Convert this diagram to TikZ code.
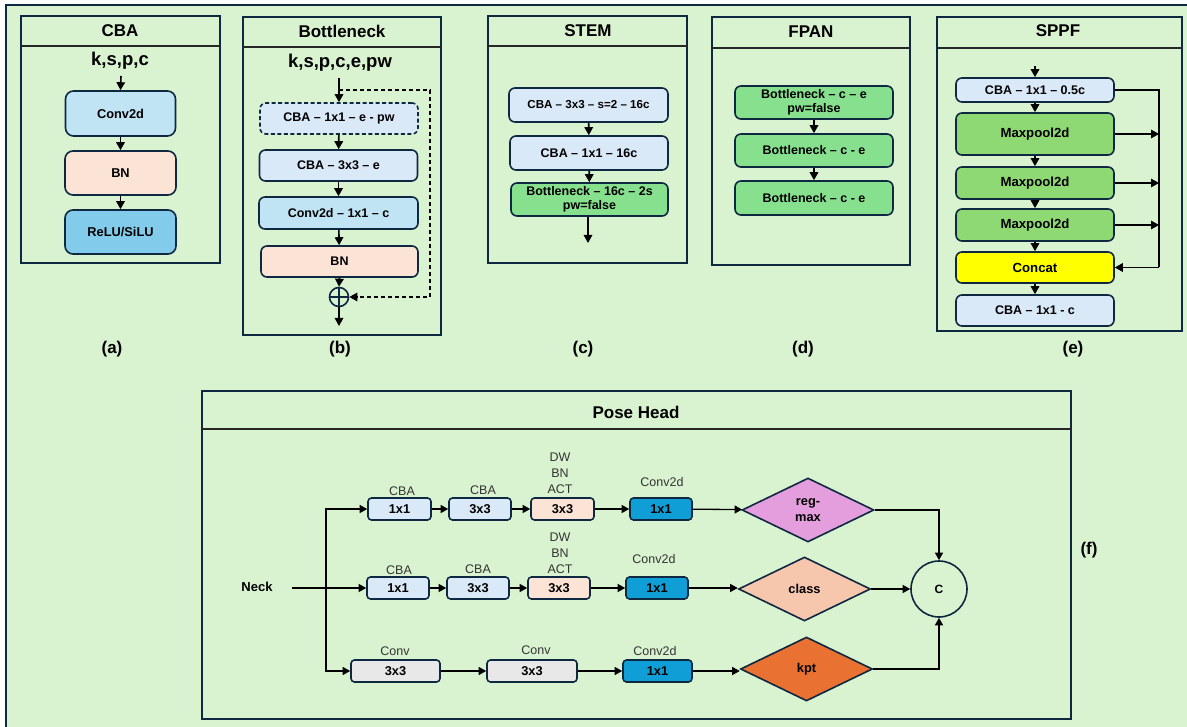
\documentclass[tikz,border=0pt]{standalone}
\usepackage{fontspec}
\setmainfont{Liberation Sans}
\usetikzlibrary{arrows.meta,shapes.geometric}

\definecolor{bg}{HTML}{D9F2D0}
\definecolor{ink}{HTML}{0E2841}
\definecolor{convblue}{HTML}{C1E4F5}
\definecolor{bnpeach}{HTML}{FBE3D6}
\definecolor{actblue}{HTML}{83CBEB}
\definecolor{cbablue}{HTML}{DAE9F8}
\definecolor{bottgreen}{HTML}{87E08D}
\definecolor{poolgreen}{HTML}{8ED973}
\definecolor{concatyellow}{HTML}{FFFF00}
\definecolor{convgray}{HTML}{E8E8E8}
\definecolor{headblue}{HTML}{0F9ED5}
\definecolor{regpink}{HTML}{E59EDD}
\definecolor{clspeach}{HTML}{F6C6AD}
\definecolor{kptorange}{HTML}{E97132}

\tikzset{
  panel/.style={draw=ink, line width=1.8pt},
  divider/.style={draw=black!85, line width=1.6pt},
  blk/.style={draw=ink, line width=1.6pt, rounded corners=6pt, inner sep=1pt,
    align=center, font=\bfseries\fontsize{12.5}{14}\selectfont},
  sblk/.style={draw=ink, line width=1.6pt, rounded corners=3.5pt, inner sep=1pt,
    minimum height=22pt, font=\bfseries\fontsize{12.8}{14}\selectfont},
  arr/.style={-{Triangle[length=8pt,width=8.5pt]}, line width=1.6pt, black},
  harr/.style={-{Triangle[length=7.5pt,width=8pt]}, line width=1.3pt, black},
  ttl/.style={font=\bfseries\fontsize{17}{20}\selectfont},
  params/.style={font=\bfseries\fontsize{18.5}{21}\selectfont},
  tag/.style={font=\bfseries\fontsize{17}{20}\selectfont},
  lbl/.style={font=\fontsize{12.5}{16}\selectfont, text=black!80, inner sep=0pt},
  dia/.style={diamond, draw=ink, line width=1.6pt, inner sep=0pt,
    minimum width=132pt, minimum height=64pt, align=center,
    font=\bfseries\fontsize{12.8}{16}\selectfont},
}

\begin{document}
\begin{tikzpicture}[x=1pt, y=-1pt]
\useasboundingbox (0,0) rectangle (1187,727);

% canvas
\fill[bg] (6,5) rectangle (1187,727);
\draw[ink, line width=2pt] (6,727) -- (6,5) -- (1187,5);

% ---------------- (a) CBA ----------------
\draw[panel] (21,16) rectangle (220,263);
\draw[divider] (21,46) -- (220,46);
\node[ttl] (tA) at (120,31) {CBA};
\node[params] (pA) at (120,61) {k,s,p,c};
\coordinate (inA) at (121,76);
\node[blk, fill=convblue, minimum width=110pt, minimum height=45pt, rounded corners=8pt,
  font=\bfseries\fontsize{12.8}{14}\selectfont] (a1) at (120.5,113.5) {Conv2d};
\node[blk, fill=bnpeach, minimum width=111pt, minimum height=44pt, rounded corners=8pt,
  font=\bfseries\fontsize{12.8}{14}\selectfont] (a2) at (120.5,173) {BN};
\node[blk, fill=actblue, minimum width=111pt, minimum height=44pt, rounded corners=8pt,
  font=\bfseries\fontsize{12.8}{14}\selectfont] (a3) at (120.5,232) {ReLU/SiLU};
\draw[arr] (inA) -- (a1.north);
\draw[arr] (a1) -- (a2);
\draw[arr] (a2) -- (a3);
\node[tag] (la) at (112,349) {(a)};

% ---------------- (b) Bottleneck ----------------
\draw[panel] (243,17) rectangle (441,335);
\draw[divider] (243,47) -- (441,47);
\node[ttl] (tB) at (342,31) {Bottleneck};
\node[params] (pB) at (340,63) {k,s,p,c,e,pw};
\coordinate (inB) at (339,78);
\coordinate (splitB) at (339,90);
\coordinate (skipR) at (430,90);
\coordinate (skipD) at (430,297);
\node[blk, dashed, dash pattern=on 4pt off 2.5pt, fill=cbablue, minimum width=158pt, minimum height=31pt] (b1) at (339,118.5) {CBA – 1x1 – e - pw};
\node[blk, fill=cbablue, minimum width=158pt, minimum height=31pt] (b2) at (338.5,165.5) {CBA – 3x3 – e};
\node[blk, fill=convblue, minimum width=159pt, minimum height=32pt] (b3) at (338.5,213) {Conv2d – 1x1 – c};
\node[blk, fill=bnpeach, minimum width=157pt, minimum height=31pt] (b4) at (339.5,261.5) {BN};
\node[circle, draw=ink, line width=1.6pt, minimum size=19pt, inner sep=0pt,
  path picture={\draw[ink, line width=1.6pt]
    (path picture bounding box.north) -- (path picture bounding box.south)
    (path picture bounding box.west) -- (path picture bounding box.east);}] (op) at (339,297) {};
\coordinate (outB) at (339,326);
\draw[arr] (inB) -- (b1.north);
\draw[arr] (b1) -- (b2);
\draw[arr] (b2) -- (b3);
\draw[arr] (b3) -- (b4);
\draw[arr] (b4.south) -- (op.north);
\draw[arr] (op.south) -- (outB);
\draw[arr, dashed, dash pattern=on 4pt off 3pt] (splitB) -- (skipR) -- (skipD) -- (op.east);
\node[tag] (lb) at (340,349) {(b)};

% ---------------- (c) STEM ----------------
\draw[panel] (488,16) rectangle (687,263);
\draw[divider] (488,46) -- (687,46);
\node[ttl] (tC) at (588,31) {STEM};
\node[blk, fill=cbablue, minimum width=159pt, minimum height=34pt,
  font=\bfseries\fontsize{11.6}{13}\selectfont] (c1) at (588.5,105) {CBA – 3x3 – s=2 – 16c};
\node[blk, fill=cbablue, minimum width=158pt, minimum height=34pt] (c2) at (589,153) {CBA – 1x1 – 16c};
\node[blk, fill=bottgreen, minimum width=157pt, minimum height=33pt] (c3) at (589.5,199.5) {Bottleneck – 16c – 2s\\pw=false};
\coordinate (outC) at (588,243);
\draw[arr] (c1) -- (c2);
\draw[arr] (c2) -- (c3);
\draw[arr] (c3.south -| outC) -- (outC);
\node[tag] (lc) at (583,349) {(c)};

% ---------------- (d) FPAN ----------------
\draw[panel] (712,17) rectangle (910,265);
\draw[divider] (712,48) -- (910,48);
\node[ttl] (tD) at (811,32) {FPAN};
\node[blk, fill=bottgreen, minimum width=158pt, minimum height=33pt] (d1) at (814,102.5) {Bottleneck – c – e\\pw=false};
\node[blk, fill=bottgreen, minimum width=158pt, minimum height=33pt] (d2) at (814,150.5) {Bottleneck – c - e};
\node[blk, fill=bottgreen, minimum width=158pt, minimum height=34pt] (d3) at (814,198) {Bottleneck – c - e};
\draw[arr] (d1) -- (d2);
\draw[arr] (d2) -- (d3);
\node[tag] (ld) at (803,349) {(d)};

% ---------------- (e) SPPF ----------------
\draw[panel] (937,17) rectangle (1182,331);
\draw[divider] (937,48) -- (1182,48);
\node[ttl] (tE) at (1058,31) {SPPF};
\coordinate (inE) at (1035,66);
\node[blk, fill=cbablue, minimum width=158pt, minimum height=24pt] (e1) at (1035,90) {CBA – 1x1 – 0.5c};
\node[blk, fill=poolgreen, minimum width=158pt, minimum height=42pt,
  font=\bfseries\fontsize{13.2}{15}\selectfont] (e2) at (1035,134) {Maxpool2d};
\node[blk, fill=poolgreen, minimum width=158pt, minimum height=32pt,
  font=\bfseries\fontsize{13.2}{15}\selectfont] (e3) at (1035,183) {Maxpool2d};
\node[blk, fill=poolgreen, minimum width=158pt, minimum height=32pt,
  font=\bfseries\fontsize{13.2}{15}\selectfont] (e4) at (1035,225) {Maxpool2d};
\node[blk, fill=concatyellow, minimum width=158pt, minimum height=31pt,
  font=\bfseries\fontsize{13.2}{15}\selectfont] (e5) at (1035,267.5) {Concat};
\node[blk, fill=cbablue, minimum width=158pt, minimum height=31pt] (e6) at (1035,310.5) {CBA – 1x1 - c};
\coordinate (busT) at (1159,90);
\coordinate (busB) at (1159,267.5);
\draw[arr] (inE) -- (e1.north);
\draw[arr] (e1) -- (e2);
\draw[arr] (e2) -- (e3);
\draw[arr] (e3) -- (e4);
\draw[arr] (e4) -- (e5);
\draw[arr] (e5) -- (e6);
\draw[line width=1.6pt] (e1.east) -- (busT) -- (busB);
\draw[arr] (e2.east) -- (e2.east -| busT);
\draw[arr] (e3.east) -- (e3.east -| busT);
\draw[arr] (e4.east) -- (e4.east -| busT);
\draw[arr] (busB) -- (e5.east);
\node[tag] (le) at (1073,349) {(e)};

% ---------------- (f) Pose Head ----------------
\draw[panel] (202,391) rectangle (1071,719);
\draw[divider] (202,429) -- (1071,429);
\node[ttl] (tF) at (636,412) {Pose Head};
\node[tag] (lf) at (1089,550) {(f)};

\node[font=\bfseries\fontsize{13}{15}\selectfont] (neck) at (257,587) {Neck};
\coordinate (nstart) at (292,588);
\coordinate (split) at (326,588);

% row 1
\node[sblk, fill=cbablue, minimum width=63pt] (r1a) at (399.5,509) {1x1};
\node[sblk, fill=cbablue, minimum width=62pt] (r1b) at (480,509) {3x3};
\node[sblk, fill=bnpeach, minimum width=63pt] (r1c) at (562.5,509) {3x3};
\node[sblk, fill=headblue, minimum width=62pt] (r1d) at (661,509) {1x1};
\node[dia, fill=regpink] (reg) at (808,510) {reg-\\max};
% row 2
\node[sblk, fill=cbablue, minimum width=62pt] (r2a) at (398,588) {1x1};
\node[sblk, fill=cbablue, minimum width=62pt] (r2b) at (478,588) {3x3};
\node[sblk, fill=bnpeach, minimum width=62pt] (r2c) at (559,588) {3x3};
\node[sblk, fill=headblue, minimum width=62pt] (r2d) at (657,588) {1x1};
\node[dia, fill=clspeach] (cls) at (804.5,589) {class};
% row 3
\node[sblk, fill=convgray, minimum width=89pt] (r3a) at (395.5,671) {3x3};
\node[sblk, fill=convgray, minimum width=90pt] (r3b) at (532,671) {3x3};
\node[sblk, fill=headblue, minimum width=69pt] (r3d) at (657.5,671) {1x1};
\node[dia, fill=kptorange] (kpt) at (806.5,669) {kpt};
% concat
\node[circle, draw=ink, line width=1.6pt, minimum size=56pt, inner sep=0pt,
  font=\bfseries\fontsize{12}{14}\selectfont] (cc) at (939,589) {C};

% captions above the head blocks
\node[lbl] (l1a) at (402,491) {CBA};
\node[lbl] (l1b) at (483,490) {CBA};
\node[lbl, align=center] (l1c) at (560,473) {DW\\BN\\ACT};
\node[lbl] (l1d) at (662,482) {Conv2d};
\node[lbl] (l2a) at (399,570) {CBA};
\node[lbl] (l2b) at (478,569) {CBA};
\node[lbl, align=center] (l2c) at (560,553) {DW\\BN\\ACT};
\node[lbl] (l2d) at (654,559) {Conv2d};
\node[lbl] (l3a) at (395,651) {Conv};
\node[lbl] (l3b) at (536,650) {Conv};
\node[lbl] (l3d) at (655,651) {Conv2d};

% head connectors
\draw[harr] (nstart) -- (r2a.west);
\draw[harr] (split) |- (r1a.west);
\draw[harr] (split) |- (r3a.west);
\draw[harr] (r1a) -- (r1b);
\draw[harr] (r1b) -- (r1c);
\draw[harr] (r1c) -- (r1d);
\draw[harr] (r1d) -- (reg);
\draw[harr] (r2a) -- (r2b);
\draw[harr] (r2b) -- (r2c);
\draw[harr] (r2c) -- (r2d);
\draw[harr] (r2d) -- (cls.west |- r2d);
\draw[harr] (r3a) -- (r3b);
\draw[harr] (r3b) -- (r3d);
\draw[harr] (r3d.east) -- (kpt.west |- r3d.east);
\draw[harr] (reg.east) -| (cc.north);
\draw[harr] (cls.east) -- (cc.west);
\draw[harr] (kpt.east) -| (cc.south);
\end{tikzpicture}
\end{document}
